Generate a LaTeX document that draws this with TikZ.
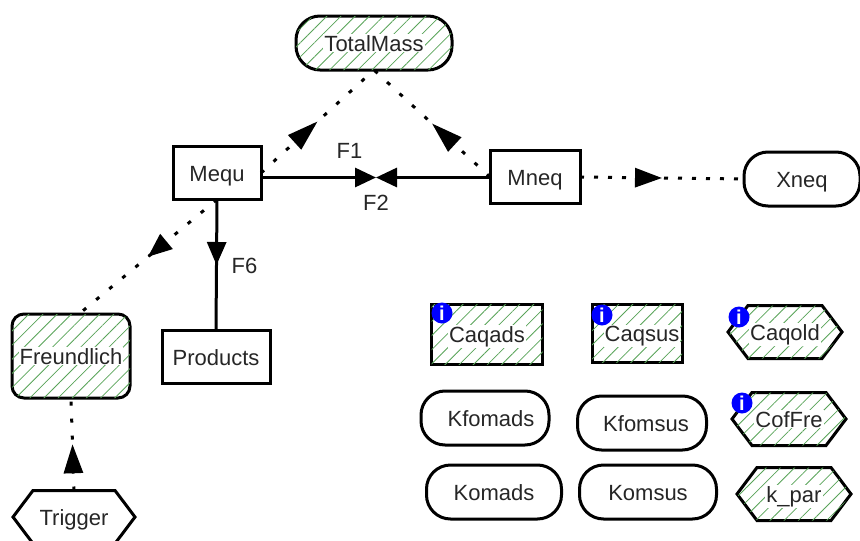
\documentclass[tikz,border=0pt]{standalone}
\usepackage{fontspec}
\setmainfont{Liberation Sans}
\usetikzlibrary{shapes.symbols,arrows.meta,patterns.meta,decorations.markings}
\newcommand{\hatchtxt}[1]{{\setlength{\fboxsep}{1pt}\colorbox{white}{#1}}}

\begin{document}
\begin{tikzpicture}[x=1pt, y=-1pt, every node/.style={font=\fontsize{22}{24}\selectfont, text=black!85, text height=16pt, text depth=0pt, inner sep=0pt, outer sep=0pt}, box/.style={draw=black, line width=3pt, fill=white, minimum width=#1, minimum height=53pt}, term/.style={draw=black, line width=3pt, fill=white, rounded corners=24pt, minimum width=#1, minimum height=54pt}, hexa/.style={draw=black, line width=3pt, fill=white, shape=signal, signal to=east and west, signal pointer angle=106, minimum width=#1, minimum height=53pt}, hatched/.style={postaction={pattern={Lines[angle=45,distance=10pt,line width=0.8pt]}, pattern color=green!45!black!65}}, infomark/.style={circle, fill=blue, text=white, text height=14.5pt, minimum size=21pt, font=\fontsize{20}{20}\selectfont\bfseries}, dots/.style={line width=3pt, dash pattern=on 4pt off 13pt}, flow/.style={line width=3pt}, headmid/.style={postaction={decorate}, decoration={markings, mark=at position 0.5 with {\arrow[solid]{Triangle[length=#1,width=19pt]}}}}, lbl/.style={anchor=center}]
\useasboundingbox (0,0) rectangle (860,541);
\node[term=156pt, hatched] (totalmass) at (374,43) {\hatchtxt{TotalMass}};
\node[box=88pt] (mequ) at (217,173) {Mequ}; \node[box=90pt] (mneq) at (535,177) {Mneq}; \node[term=116pt] (xneq) at (802,179) {Xneq};
\node[box=108pt] (products) at (216,357) {Products}; \node[box=118pt, minimum height=84pt, rounded corners=12pt, hatched] (freundlich) at (71,356) {\hatchtxt{Freundlich}}; \node[hexa=122pt] (trigger) at (74,517) {Trigger};
\node[box=111pt, minimum height=60pt, hatched] (caqads) at (487,334) {\hatchtxt{Caqads}}; \node[box=90pt, minimum height=58pt, hatched] (caqsus) at (637,333) {\hspace{10pt}\hatchtxt{Caqsus}}; \node[hexa=114pt, hatched] (caqold) at (785,332) {\hatchtxt{Caqold}};
\node[term=128pt] (kfomads) at (485,418) {\hspace{12pt}Kfomads}; \node[term=129pt] (kfomsus) at (642,423) {\hspace{8pt}Kfomsus}; \node[hexa=114pt, hatched] (cofFre) at (789,419) {\hatchtxt{CofFre}};
\node[term=135pt] (komads) at (494,492) {Komads}; \node[term=137pt] (komsus) at (648,492) {Komsus}; \node[hexa=114pt, hatched] (kpar) at (794,494) {\hatchtxt{k\_par}};
\node[infomark] (infoa) at (442,313) {i}; \node[infomark] (infob) at (602,315) {i}; \node[infomark] (infoc) at (739,317) {i}; \node[infomark] (infod) at (742,403) {i};
\coordinate (fmid) at (376,177.5);
\draw[flow, -{Triangle[length=21pt,width=19pt]}] (fmid -| mequ.east) -- node[lbl, pos=0.77, yshift=27pt] {F1} (fmid);
\draw[flow, -{Triangle[length=21pt,width=19pt]}] (fmid -| mneq.west) -- node[lbl, pos=1, yshift=-25pt] {F2} (fmid);
\draw[flow, headmid=23pt] (mequ.south) -- node[lbl, pos=0.5, xshift=28pt] {F6} (products.north);
\draw[dots, headmid=31pt] (mequ.east) -- (totalmass.south);
\draw[dots, headmid=31pt] (mneq.west) -- (totalmass.south);
\draw[dots, dash pattern=on 4pt off 10pt, headmid=27pt] (mneq.east) -- (xneq.west);
\draw[dots, headmid=24pt] (mequ.south) -- ([xshift=8pt]freundlich.north);
\draw[dots, headmid=29pt] (trigger.north) -- (freundlich.south);
\end{tikzpicture}
\end{document}
